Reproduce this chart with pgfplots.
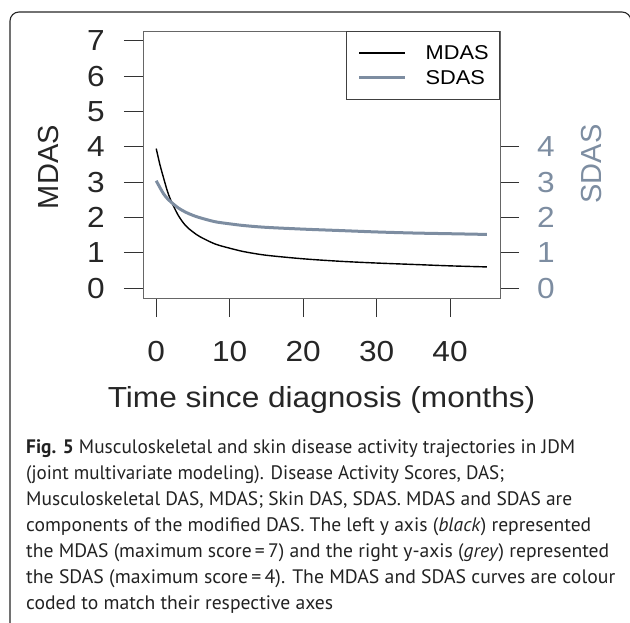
\documentclass[border=0pt]{standalone}
\usepackage{fontspec}
\setmainfont{Liberation Sans}
\newfontfamily\chartH[FakeStretch=1.09]{Liberation Sans}
\newfontfamily\capfont{PT Sans}
\usepackage{graphicx}
\usepackage{pgfplots}
\pgfplotsset{compat=1.18}
\definecolor{sgray}{HTML}{7D8DA1}
\definecolor{capcol}{HTML}{222222}

\pgfplotstableread{
t m
0 3.95
0.5 3.50
1 3.12
1.5 2.76
2 2.48
3 2.06
4 1.77
5 1.59
6 1.45
8 1.25
10 1.13
12 1.03
15 0.93
20 0.83
25 0.76
30 0.71
35 0.67
40 0.63
45 0.60
}\mdas

\pgfplotstableread{
t s
0 3.04
0.5 2.85
1 2.67
1.5 2.54
2 2.44
3 2.27
4 2.15
5 2.06
6 1.99
8 1.88
10 1.82
12 1.77
15 1.72
20 1.67
25 1.63
30 1.59
35 1.56
40 1.54
45 1.52
}\sdas

\newcommand\capline[2]{\resizebox{#1}{\height}{#2}}

\begin{document}
\begin{tikzpicture}[x=1pt,y=1pt]
\useasboundingbox (0,0) rectangle (630,622);
\draw[black!85, line width=1.1pt, rounded corners=9pt] (10,-6) -- (10,610) -- (631,610) -- (631,-6);

\begin{axis}[
  at={(143pt,324pt)}, anchor=south west,
  scale only axis, width=357pt, height=267pt,
  xmin=-1.8, xmax=46.8, ymin=-0.28, ymax=7.28,
  xtick={0,10,20,30,40}, xticklabels={0,10,20,30,40},
  ytick={0,1,2,3,4,5,6,7}, yticklabels={0,1,2,3,4,5,6,7},
  tick pos=left, tick align=outside, major tick length=19pt,
  tick style={black!80, line width=0.9pt},
  axis line style={black!60, line width=0.9pt},
  tick label style={font=\chartH\fontsize{29}{29}\selectfont, text=black!85, inner sep=0pt, anchor=center},
  xticklabel style={yshift=-35pt},
  yticklabel style={xshift=-28pt},
  xlabel={Time since diagnosis (months)},
  xlabel style={font=\chartH\fontsize{29}{29}\selectfont, text=black!85, at={(axis description cs:0.5,-0.382)}, anchor=center},
  ylabel={MDAS},
  ylabel style={font=\fontsize{29}{29}\selectfont, text=black!85, at={(axis description cs:-0.266,0.49)}, anchor=center},
  legend style={at={(1,1)}, anchor=north east, draw=black!75, line width=0.8pt,
    font=\chartH\fontsize{20}{20}\selectfont, inner xsep=11pt, inner ysep=14.5pt,
    nodes={inner sep=0pt, text depth=0pt}, row sep=10.7pt, column sep=19pt},
  legend cell align=left,
  legend image code/.code={\path (3pt,0pt) -- (7pt,0pt); \draw[#1] (7pt,0pt) -- (49pt,0pt);},
]
\addplot[black, line width=1.4pt, smooth] table[x=t, y=m] {\mdas};
\addlegendentry{MDAS}
\addplot[sgray, line width=3pt, smooth] table[x=t, y=s] {\sdas};
\addlegendentry{SDAS}
\end{axis}

\begin{axis}[
  at={(143pt,324pt)}, anchor=south west,
  scale only axis, width=357pt, height=267pt,
  xmin=-1.8, xmax=46.8, ymin=-0.28, ymax=7.28,
  axis x line=none, axis y line*=right,
  ytick={0,1,2,3,4}, yticklabels={0,1,2,3,4},
  tick align=outside, major tick length=19pt,
  tick style={black!80, line width=0.9pt},
  axis line style={black!60, line width=0.9pt},
  tick label style={font=\chartH\fontsize{29}{29}\selectfont, text=sgray, inner sep=0pt, anchor=center},
  yticklabel style={xshift=27pt},
  ylabel={SDAS},
  ylabel style={font=\fontsize{29}{29}\selectfont, text=sgray, at={(axis description cs:1.255,0.502)}, anchor=center},
]
\end{axis}

\begin{scope}[every node/.style={anchor=base west, inner sep=0pt, text=capcol, font=\capfont\fontsize{19.5}{26}\selectfont}]
\node at (26,168.5) {\capline{549pt}{\textbf{Fig. 5} Musculoskeletal and skin disease activity trajectories in JDM}};
\node at (26,142.5) {\capline{478pt}{(joint multivariate modeling). Disease Activity Scores, DAS;}};
\node at (26,116.5) {\capline{546pt}{Musculoskeletal DAS, MDAS; Skin DAS, SDAS. MDAS and SDAS are}};
\node at (26,90.5) {\capline{565pt}{components of the modified DAS. The left y axis (\textit{black}) represented}};
\node at (26,64.5) {\capline{583pt}{the MDAS (maximum score\,=\,7) and the right y-axis (\textit{grey}) represented}};
\node at (26,38.5) {\capline{589pt}{the SDAS (maximum score\,=\,4). The MDAS and SDAS curves are colour}};
\node at (26,12.5) {\capline{307pt}{coded to match their respective axes}};
\end{scope}
\end{tikzpicture}
\end{document}
